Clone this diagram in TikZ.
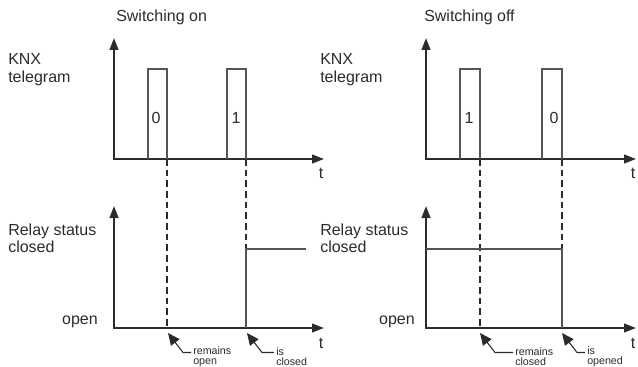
\documentclass[tikz,border=0pt]{standalone}
\usepackage{fontspec}
\setmainfont{Liberation Sans}
\usetikzlibrary{arrows.meta,calc}
\definecolor{ink}{HTML}{2B2B2B}
\definecolor{trace}{HTML}{555555}
\tikzset{
 axis/.style={draw=ink, line width=1.5pt, {Triangle[length=9pt,width=6.5pt]}-{Triangle[length=9pt,width=6.5pt]}},
 pulse/.style={draw=trace, line width=0.9pt},
 level/.style={draw=trace, line width=1pt},
 guide/.style={draw=ink, line width=0.8pt, dash pattern=on 5pt off 3pt},
 lbl/.style={text=ink, font=\fontsize{12}{13}\selectfont, align=left, inner sep=0pt},
 note/.style={text=ink, font=\fontsize{8}{7.6}\selectfont, align=left, inner sep=0pt},
 pointer/.style={draw=ink, line width=0.8pt, -{Triangle[length=9pt,width=8pt]}},
}
\begin{document}
\begin{tikzpicture}[x=0.75pt,y=-0.75pt]
    \useasboundingbox (0,0) rectangle (638,367);
        \foreach \dx [count=\i] in {0, 312} {
            \draw[axis] (114+\dx, 38) -- (114+\dx, 159) -- (324+\dx, 159);
            \draw[axis] (114+\dx, 206) -- (114+\dx, 328) -- (324+\dx, 328);
            \node[lbl] (tTop\i) at (321+\dx, 173) {t};
            \node[lbl] (tBot\i) at (321+\dx, 343) {t};
            \node[lbl, anchor=west] (knx\i) at (8+\dx, 69.5) {KNX\\telegram};
            \node[lbl, anchor=west] (relay\i) at (8+\dx, 238) {Relay status\\closed};
        }
        \node[lbl, anchor=base west] (titleOn) at (116, 21.5) {Switching on};
        \node[lbl, anchor=base west] (titleOff) at (424, 21.5) {Switching off};
        \node[lbl, anchor=base east] (openOn) at (98, 324) {open};
        \node[lbl, anchor=base east] (openOff) at (415, 324) {open};
        % telegrams
        \draw[guide] (167, 159) -- (167, 328);
        \draw[guide] (246, 159) -- (246, 328);
        \draw[guide] (480, 159) -- (480, 328);
        \draw[guide] (562, 159) -- (562, 328);
        \draw[pulse] (148, 159) |- (167, 69) -- (167, 159);
        \draw[pulse] (227, 159) |- (246, 69) -- (246, 159);
        \draw[pulse] (460, 159) |- (480, 69) -- (480, 159);
        \draw[pulse] (542, 159) |- (562, 69) -- (562, 159);
        \node[lbl] (bitA) at (156, 118) {0};
        \node[lbl] (bitB) at (236, 118) {1};
        \node[lbl] (bitC) at (469, 118) {1};
        \node[lbl] (bitD) at (554, 118) {0};
        % relay
        \draw[level] (246, 328) |- (306, 249);
        \draw[level] (426, 249) -| (562, 328);
        \coordinate (tipA) at (168, 333);
        \coordinate (tipB) at (247, 333);
        \coordinate (tipC) at (480, 333);
        \coordinate (tipD) at (562, 333);
        \node[note, anchor=west] (remOpen) at (193, 356.5) {remains\\open};
        \node[note, anchor=west] (isClosed) at (276, 356.5) {is\\closed};
        \node[note, anchor=west] (remClosed) at (515, 356.5) {remains\\closed};
        \node[note, anchor=west] (isOpened) at (587, 356.5) {is\\opened};
        \draw[pointer] ($(remOpen.west)+(-2,-4)$) -- ($(tipA)+(15,19.5)$) -- (tipA);
        \draw[pointer] ($(isClosed.west)+(-2,-4)$) -- ($(tipB)+(15,19.5)$) -- (tipB);
        \draw[pointer] ($(remClosed.west)+(-2,-4)$) -- ($(tipC)+(15,19.5)$) -- (tipC);
        \draw[pointer] ($(isOpened.west)+(-2,-4)$) -- ($(tipD)+(15,19.5)$) -- (tipD);
    \end{tikzpicture}
\end{document}
